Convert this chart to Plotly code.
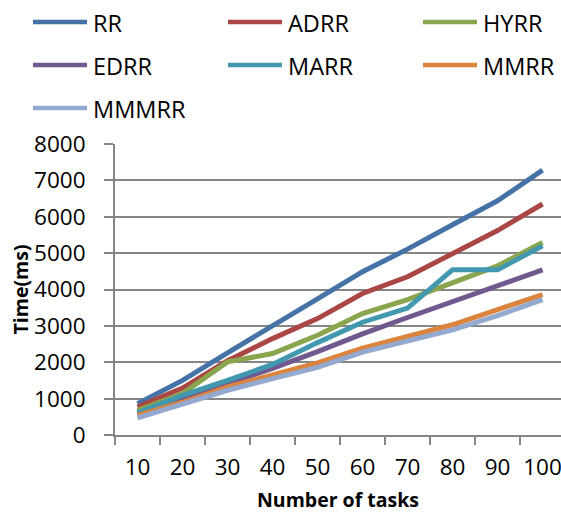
import plotly.graph_objects as go

tasks = ["10", "20", "30", "40", "50", "60", "70", "80", "90", "100"]
rr    = [860, 1500, 2260, 3020, 3740, 4490, 5110, 5780, 6440, 7280]
adrr  = [770, 1290, 2040, 2650, 3200, 3890, 4350, 4990, 5620, 6350]
hyrr  = [680, 1140, 2010, 2240, 2740, 3340, 3720, 4180, 4650, 5290]
edrr  = [590, 1000, 1410, 1830, 2290, 2780, 3230, 3660, 4110, 4540]
marr  = [610, 1090, 1500, 1940, 2540, 3100, 3490, 4540, 4540, 5200]
mmrr  = [540, 900, 1320, 1640, 1980, 2390, 2700, 3030, 3450, 3860]
mmmrr = [470, 860, 1230, 1550, 1860, 2280, 2570, 2890, 3280, 3720]

names = ["RR", "ADRR", "HYRR", "EDRR", "MARR", "MMRR", "MMMRR"]
series = [rr, adrr, hyrr, edrr, marr, mmrr, mmmrr]
colors = ["#4572A7", "#AA4643", "#89A54E", "#71588F", "#4198AF", "#DB843D", "#93A9CF"]

W, H = 561, 515
ML, MR, MT, MB = 115, 0, 144, 80
PW, PH = W - ML - MR, H - MT - MB

def px(x):
    return (x - ML) / PW

def py(y):
    return (H - MB - y) / PH

font = "Open Sans"
fig = go.Figure()
for n, s, c in zip(names, series, colors):
    fig.add_trace(go.Scatter(x=tasks, y=s, name=n, mode="lines",
                             line=dict(color=c, width=5), showlegend=False))

# manual legend, 3 columns
col_x = [33, 228, 423]
row_y = [22, 65, 108]
for i, (n, c) in enumerate(zip(names, colors)):
    x0 = col_x[i % 3]
    y0 = row_y[i // 3]
    fig.add_shape(type="line", xref="paper", yref="paper",
                  x0=px(x0), x1=px(x0 + 54), y0=py(y0), y1=py(y0),
                  line=dict(color=c, width=4.5))
    fig.add_annotation(xref="paper", yref="paper", x=px(x0 + 58), y=py(y0 + 1),
                       text=n, showarrow=False, xanchor="left", yanchor="middle",
                       font=dict(size=23.5, family=font, color="black"))

fig.update_layout(
    width=W, height=H,
    margin=dict(l=ML, r=MR, t=MT, b=MB),
    paper_bgcolor="white", plot_bgcolor="white",
    font=dict(family=font, size=22, color="black"),
    showlegend=False,
)
fig.update_xaxes(
    type="category", range=[-0.5, 9.41], tickson="boundaries",
    ticks="outside", ticklen=8, tickcolor="#868686", tickwidth=2,
    showline=True, linecolor="#868686", linewidth=2, showgrid=False,
    tickfont=dict(size=22.5), ticklabelstandoff=11, automargin=False,
    title=dict(text="<b>Number of tasks</b>", font=dict(size=19.5), standoff=12),
)
fig.update_yaxes(
    range=[0, 8000], tickvals=[0, 1000, 2000, 3000, 4000, 5000, 6000, 7000, 8000],
    ticks="outside", ticklen=9, tickcolor="#868686", tickwidth=2,
    showline=True, linecolor="#868686", linewidth=2,
    showgrid=True, gridcolor="#868686", gridwidth=2,
    zeroline=False, tickfont=dict(size=22.5), ticklabelstandoff=14, automargin=False,
    title=dict(text="<b>Time(ms)</b>", font=dict(size=19.5), standoff=0),
)
fig.write_html("out.html")
